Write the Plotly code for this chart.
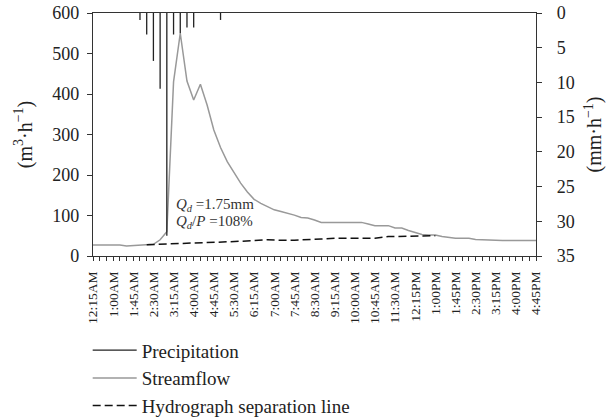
import plotly.graph_objects as go

# ---- categories: 15-minute steps from 12:15AM to 4:45PM ----
def fmt(minutes):
    h, m = divmod(minutes, 60)
    suffix = "AM" if h < 12 else "PM"
    hh = h % 12
    if hh == 0:
        hh = 12
    return f"{hh}:{m:02d}{suffix}"

times = [fmt(15 + 15 * k) for k in range(67)]

tick_labels = ["12:15AM", "1:00AM", "1:45AM", "2:30AM", "3:15AM", "4:00AM", "4:45AM",
               "5:30AM", "6:15AM", "7:00AM", "7:45AM", "8:30AM", "9:15AM", "10:00AM",
               "10:45AM", "11:30AM", "12:15PM", "1:00PM", "1:45PM", "2:30PM", "3:15PM",
               "4:00PM", "4:45PM"]

# ---- streamflow (m3/h), one value per 15 minutes ----
streamflow = [27, 27, 27, 27, 27, 25, 26, 28, 28, 29, 40, 60,
              430, 550, 432, 385, 424, 373, 311, 268, 233, 205, 180, 158,
              140, 130, 122, 114, 110, 106, 101, 95, 94, 89, 83,
              83, 83, 83, 83, 83, 83,
              79, 75, 75, 75, 69, 69, 63, 58, 53, 52, 52, 48, 46,
              44, 44, 44, 41, 40, 40,
              38, 38, 38, 38, 38, 38, 38]

# ---- precipitation (mm/h) ----
precip_times = ["2:00AM", "2:15AM", "2:30AM", "2:45AM", "3:00AM", "3:15AM",
                "3:30AM", "3:45AM", "4:00AM", "5:00AM"]
precip_values = [1.0, 3.1, 6.9, 10.9, 32.1, 3.1, 2.9, 2.1, 2.1, 1.0]

# ---- hydrograph separation line (m3/h) ----
sep_times = ["2:15AM", "3:15AM", "4:15AM", "5:15AM", "6:15AM", "6:45AM", "7:15AM",
             "7:45AM", "8:45AM", "9:15AM", "10:45AM", "11:15AM", "1:00PM"]
sep_values = [28, 30, 32, 35, 38, 40, 39, 39, 42, 44, 44, 48, 50]

FONT = "Liberation Serif"
AX = "#333333"
TXT = "#222222"

# precipitation drawn as hanging lines from the top (reversed right axis)
px, py = [], []
for t, v in zip(precip_times, precip_values):
    px += [t, t, None]
    py += [0, v, None]

fig = go.Figure()
fig.add_trace(go.Scatter(x=px, y=py, mode="lines", name="Precipitation",
                         line=dict(color="#222222", width=1.3), yaxis="y2"))
fig.add_trace(go.Scatter(x=times, y=streamflow, mode="lines", name="Streamflow",
                         line=dict(color="#999999", width=1.5)))
fig.add_trace(go.Scatter(x=sep_times, y=sep_values, mode="lines",
                         name="Hydrograph separation line",
                         line=dict(color="#111111", width=1.5, dash="8px,4px")))

ticktext = [t if t in tick_labels else "" for t in times]

fig.update_layout(
    width=606, height=419,
    margin=dict(l=93, r=70, t=13, b=163, autoexpand=False),
    paper_bgcolor="white", plot_bgcolor="white",
    font=dict(family=FONT, color=TXT),
    showlegend=True,
    legend=dict(x=-0.012, y=-0.31, xanchor="left", yanchor="top",
                font=dict(family=FONT, size=19, color=TXT),
                tracegroupgap=0, itemwidth=44, bgcolor="rgba(0,0,0,0)"),
    xaxis=dict(type="category", categoryorder="array", categoryarray=times,
               range=[0, 66], tickmode="array", tickvals=times, ticktext=ticktext,
               tickangle=-90, tickfont=dict(size=13.5, family=FONT, color=TXT),
               ticks="outside", ticklen=4, tickcolor=AX, tickwidth=1,
               ticklabelstandoff=5, automargin=False,
               showline=True, linecolor=AX, linewidth=1.2, mirror=True,
               showgrid=False, zeroline=False),
    yaxis=dict(range=[0, 600], dtick=100, ticks="outside", ticklen=5, tickcolor=AX,
               tickfont=dict(size=18, family=FONT, color=TXT), automargin=False,
               ticklabelstandoff=4,
               showline=True, linecolor=AX, linewidth=1.2, showgrid=False, zeroline=False,
               title=dict(text="(m<sup>3</sup>·h<sup>−1</sup>)",
                          font=dict(size=20, family=FONT, color=TXT), standoff=14)),
    yaxis2=dict(overlaying="y", side="right", range=[35, 0], dtick=5, ticks="outside",
                ticklen=5, tickcolor=AX, tickfont=dict(size=18, family=FONT, color=TXT),
                ticklabelstandoff=11, automargin=False,
                showline=True, linecolor=AX, linewidth=1.2, showgrid=False, zeroline=False,
                title=dict(text="(mm·h<sup>−1</sup>)",
                           font=dict(size=20, family=FONT, color=TXT), standoff=14)),
    annotations=[
        dict(x="3:15AM", y=127, xref="x", yref="y", xanchor="left", yanchor="middle",
             showarrow=False, text="<i>Q<sub>d</sub></i> =1.75mm",
             font=dict(size=15, family=FONT, color="#333333")),
        dict(x="3:15AM", y=85, xref="x", yref="y", xanchor="left", yanchor="middle",
             showarrow=False, text="<i>Q<sub>d</sub></i>/<i>P</i> =108%",
             font=dict(size=15, family=FONT, color="#333333")),
    ],
)

fig.write_html("out.html", config={"displayModeBar": False},
               post_script="document.body.style.margin='0';document.body.style.overflow='hidden';")
